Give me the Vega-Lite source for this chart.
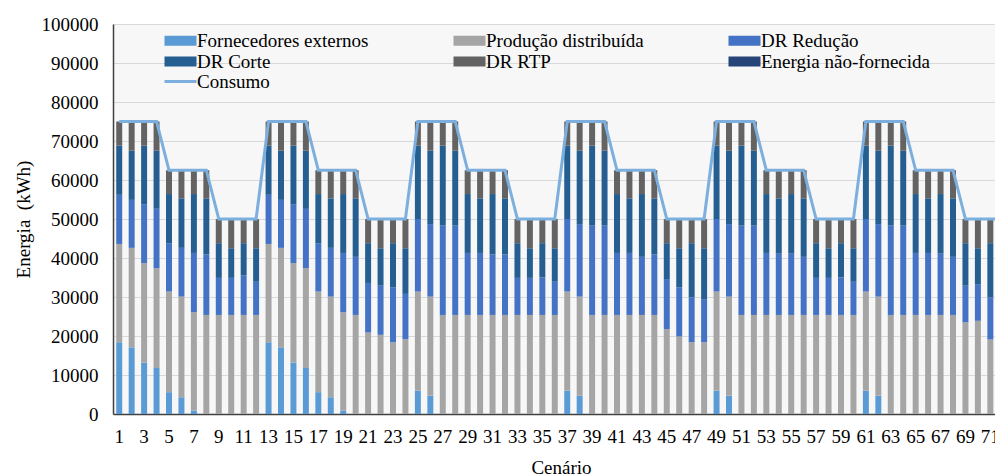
{
  "$schema": "https://vega.github.io/schema/vega-lite/v6.json",
  "width": 896,
  "height": 390,
  "padding": {"left": 14, "top": 15, "right": 0, "bottom": 0},
  "background": "white",
  "config": {
    "font": "Liberation Serif",
    "view": {"fill": "#f7f7f7", "stroke": null},
    "axis": {
      "labelFont": "Liberation Serif",
      "titleFont": "Liberation Serif",
      "labelFontSize": 19,
      "titleFontSize": 19,
      "labelColor": "#000000",
      "titleColor": "#000000",
      "titleFontWeight": "normal",
      "ticks": false,
      "tickSize": 0,
      "labelOverlap": false,
      "domainColor": "#404040",
      "domainWidth": 1.5
    },
    "legend": {"labelFont": "Liberation Serif", "labelFontSize": 19, "labelColor": "#000000", "labelLimit": 400}
  },
  "data": {
    "values": [
      {"c":1,"Fornecedores externos":18400,"Produção distribuída":25200,"DR Redução":12600,"DR Corte":12600,"DR RTP":6200,"Consumo":75000},
      {"c":2,"Fornecedores externos":17100,"Produção distribuída":25500,"DR Redução":12300,"DR Corte":12600,"DR RTP":7500,"Consumo":75000},
      {"c":3,"Fornecedores externos":13200,"Produção distribuída":25500,"DR Redução":15100,"DR Corte":15000,"DR RTP":6200,"Consumo":75000},
      {"c":4,"Fornecedores externos":11800,"Produção distribuída":25600,"DR Redução":15200,"DR Corte":14900,"DR RTP":7500,"Consumo":75000},
      {"c":5,"Fornecedores externos":5600,"Produção distribuída":25800,"DR Redução":12400,"DR Corte":12600,"DR RTP":6100,"Consumo":62500},
      {"c":6,"Fornecedores externos":4300,"Produção distribuída":25800,"DR Redução":12500,"DR Corte":12700,"DR RTP":7200,"Consumo":62500},
      {"c":7,"Fornecedores externos":900,"Produção distribuída":25200,"DR Redução":15200,"DR Corte":15100,"DR RTP":6100,"Consumo":62500},
      {"c":8,"Fornecedores externos":0,"Produção distribuída":25400,"DR Redução":15500,"DR Corte":14400,"DR RTP":7200,"Consumo":62500},
      {"c":9,"Fornecedores externos":0,"Produção distribuída":25400,"DR Redução":9500,"DR Corte":8900,"DR RTP":6200,"Consumo":50000},
      {"c":10,"Fornecedores externos":0,"Produção distribuída":25400,"DR Redução":9500,"DR Corte":7600,"DR RTP":7500,"Consumo":50000},
      {"c":11,"Fornecedores externos":0,"Produção distribuída":25400,"DR Redução":10100,"DR Corte":8300,"DR RTP":6200,"Consumo":50000},
      {"c":12,"Fornecedores externos":0,"Produção distribuída":25400,"DR Redução":8500,"DR Corte":8600,"DR RTP":7500,"Consumo":50000},
      {"c":13,"Fornecedores externos":18400,"Produção distribuída":25200,"DR Redução":12600,"DR Corte":12600,"DR RTP":6200,"Consumo":75000},
      {"c":14,"Fornecedores externos":17100,"Produção distribuída":25500,"DR Redução":12300,"DR Corte":12600,"DR RTP":7500,"Consumo":75000},
      {"c":15,"Fornecedores externos":13200,"Produção distribuída":25500,"DR Redução":15100,"DR Corte":15000,"DR RTP":6200,"Consumo":75000},
      {"c":16,"Fornecedores externos":11800,"Produção distribuída":25600,"DR Redução":15200,"DR Corte":14900,"DR RTP":7500,"Consumo":75000},
      {"c":17,"Fornecedores externos":5600,"Produção distribuída":25800,"DR Redução":12400,"DR Corte":12600,"DR RTP":6100,"Consumo":62500},
      {"c":18,"Fornecedores externos":4300,"Produção distribuída":25800,"DR Redução":12500,"DR Corte":12700,"DR RTP":7200,"Consumo":62500},
      {"c":19,"Fornecedores externos":900,"Produção distribuída":25200,"DR Redução":15200,"DR Corte":15100,"DR RTP":6100,"Consumo":62500},
      {"c":20,"Fornecedores externos":0,"Produção distribuída":25400,"DR Redução":14900,"DR Corte":15000,"DR RTP":7200,"Consumo":62500},
      {"c":21,"Fornecedores externos":0,"Produção distribuída":20900,"DR Redução":12700,"DR Corte":10200,"DR RTP":6200,"Consumo":50000},
      {"c":22,"Fornecedores externos":0,"Produção distribuída":20300,"DR Redução":12600,"DR Corte":9600,"DR RTP":7500,"Consumo":50000},
      {"c":23,"Fornecedores externos":0,"Produção distribuída":18400,"DR Redução":14100,"DR Corte":11300,"DR RTP":6200,"Consumo":50000},
      {"c":24,"Fornecedores externos":0,"Produção distribuída":19200,"DR Redução":11600,"DR Corte":11700,"DR RTP":7500,"Consumo":50000},
      {"c":25,"Fornecedores externos":6000,"Produção distribuída":25400,"DR Redução":18600,"DR Corte":18800,"DR RTP":6200,"Consumo":75000},
      {"c":26,"Fornecedores externos":4700,"Produção distribuída":25400,"DR Redução":18600,"DR Corte":18800,"DR RTP":7500,"Consumo":75000},
      {"c":27,"Fornecedores externos":0,"Produção distribuída":25400,"DR Redução":22900,"DR Corte":20500,"DR RTP":6200,"Consumo":75000},
      {"c":28,"Fornecedores externos":0,"Produção distribuída":25400,"DR Redução":22900,"DR Corte":19200,"DR RTP":7500,"Consumo":75000},
      {"c":29,"Fornecedores externos":0,"Produção distribuída":25400,"DR Redução":15900,"DR Corte":15100,"DR RTP":6100,"Consumo":62500},
      {"c":30,"Fornecedores externos":0,"Produção distribuída":25400,"DR Redução":15900,"DR Corte":14000,"DR RTP":7200,"Consumo":62500},
      {"c":31,"Fornecedores externos":0,"Produção distribuída":25400,"DR Redução":15500,"DR Corte":15500,"DR RTP":6100,"Consumo":62500},
      {"c":32,"Fornecedores externos":0,"Produção distribuída":25400,"DR Redução":15500,"DR Corte":14400,"DR RTP":7200,"Consumo":62500},
      {"c":33,"Fornecedores externos":0,"Produção distribuída":25400,"DR Redução":9500,"DR Corte":8900,"DR RTP":6200,"Consumo":50000},
      {"c":34,"Fornecedores externos":0,"Produção distribuída":25400,"DR Redução":9500,"DR Corte":7600,"DR RTP":7500,"Consumo":50000},
      {"c":35,"Fornecedores externos":0,"Produção distribuída":25400,"DR Redução":9600,"DR Corte":8800,"DR RTP":6200,"Consumo":50000},
      {"c":36,"Fornecedores externos":0,"Produção distribuída":25400,"DR Redução":8500,"DR Corte":8600,"DR RTP":7500,"Consumo":50000},
      {"c":37,"Fornecedores externos":6000,"Produção distribuída":25400,"DR Redução":18600,"DR Corte":18800,"DR RTP":6200,"Consumo":75000},
      {"c":38,"Fornecedores externos":4700,"Produção distribuída":25400,"DR Redução":18600,"DR Corte":18800,"DR RTP":7500,"Consumo":75000},
      {"c":39,"Fornecedores externos":0,"Produção distribuída":25400,"DR Redução":22900,"DR Corte":20500,"DR RTP":6200,"Consumo":75000},
      {"c":40,"Fornecedores externos":0,"Produção distribuída":25400,"DR Redução":22900,"DR Corte":19200,"DR RTP":7500,"Consumo":75000},
      {"c":41,"Fornecedores externos":0,"Produção distribuída":25400,"DR Redução":15900,"DR Corte":15100,"DR RTP":6100,"Consumo":62500},
      {"c":42,"Fornecedores externos":0,"Produção distribuída":25400,"DR Redução":15900,"DR Corte":14000,"DR RTP":7200,"Consumo":62500},
      {"c":43,"Fornecedores externos":0,"Produção distribuída":25400,"DR Redução":14900,"DR Corte":16100,"DR RTP":6100,"Consumo":62500},
      {"c":44,"Fornecedores externos":0,"Produção distribuída":25400,"DR Redução":15500,"DR Corte":14400,"DR RTP":7200,"Consumo":62500},
      {"c":45,"Fornecedores externos":0,"Produção distribuída":21800,"DR Redução":12800,"DR Corte":9200,"DR RTP":6200,"Consumo":50000},
      {"c":46,"Fornecedores externos":0,"Produção distribuída":19900,"DR Redução":12600,"DR Corte":10000,"DR RTP":7500,"Consumo":50000},
      {"c":47,"Fornecedores externos":0,"Produção distribuída":18400,"DR Redução":11500,"DR Corte":13900,"DR RTP":6200,"Consumo":50000},
      {"c":48,"Fornecedores externos":0,"Produção distribuída":18400,"DR Redução":10900,"DR Corte":13200,"DR RTP":7500,"Consumo":50000},
      {"c":49,"Fornecedores externos":6000,"Produção distribuída":25400,"DR Redução":18600,"DR Corte":18800,"DR RTP":6200,"Consumo":75000},
      {"c":50,"Fornecedores externos":4700,"Produção distribuída":25400,"DR Redução":18600,"DR Corte":18800,"DR RTP":7500,"Consumo":75000},
      {"c":51,"Fornecedores externos":0,"Produção distribuída":25400,"DR Redução":22900,"DR Corte":20500,"DR RTP":6200,"Consumo":75000},
      {"c":52,"Fornecedores externos":0,"Produção distribuída":25400,"DR Redução":22900,"DR Corte":19200,"DR RTP":7500,"Consumo":75000},
      {"c":53,"Fornecedores externos":0,"Produção distribuída":25400,"DR Redução":15900,"DR Corte":15100,"DR RTP":6100,"Consumo":62500},
      {"c":54,"Fornecedores externos":0,"Produção distribuída":25400,"DR Redução":15700,"DR Corte":14200,"DR RTP":7200,"Consumo":62500},
      {"c":55,"Fornecedores externos":0,"Produção distribuída":25400,"DR Redução":15700,"DR Corte":15300,"DR RTP":6100,"Consumo":62500},
      {"c":56,"Fornecedores externos":0,"Produção distribuída":25400,"DR Redução":14900,"DR Corte":15000,"DR RTP":7200,"Consumo":62500},
      {"c":57,"Fornecedores externos":0,"Produção distribuída":25400,"DR Redução":9500,"DR Corte":8900,"DR RTP":6200,"Consumo":50000},
      {"c":58,"Fornecedores externos":0,"Produção distribuída":25400,"DR Redução":9500,"DR Corte":7600,"DR RTP":7500,"Consumo":50000},
      {"c":59,"Fornecedores externos":0,"Produção distribuída":25400,"DR Redução":9600,"DR Corte":8800,"DR RTP":6200,"Consumo":50000},
      {"c":60,"Fornecedores externos":0,"Produção distribuída":25400,"DR Redução":8500,"DR Corte":8600,"DR RTP":7500,"Consumo":50000},
      {"c":61,"Fornecedores externos":6000,"Produção distribuída":25400,"DR Redução":18600,"DR Corte":18800,"DR RTP":6200,"Consumo":75000},
      {"c":62,"Fornecedores externos":4700,"Produção distribuída":25400,"DR Redução":18600,"DR Corte":18800,"DR RTP":7500,"Consumo":75000},
      {"c":63,"Fornecedores externos":0,"Produção distribuída":25400,"DR Redução":22900,"DR Corte":20500,"DR RTP":6200,"Consumo":75000},
      {"c":64,"Fornecedores externos":0,"Produção distribuída":25400,"DR Redução":22900,"DR Corte":19200,"DR RTP":7500,"Consumo":75000},
      {"c":65,"Fornecedores externos":0,"Produção distribuída":25400,"DR Redução":15900,"DR Corte":15100,"DR RTP":6100,"Consumo":62500},
      {"c":66,"Fornecedores externos":0,"Produção distribuída":25400,"DR Redução":15900,"DR Corte":14000,"DR RTP":7200,"Consumo":62500},
      {"c":67,"Fornecedores externos":0,"Produção distribuída":25400,"DR Redução":15700,"DR Corte":15300,"DR RTP":6100,"Consumo":62500},
      {"c":68,"Fornecedores externos":0,"Produção distribuída":25400,"DR Redução":14900,"DR Corte":15000,"DR RTP":7200,"Consumo":62500},
      {"c":69,"Fornecedores externos":0,"Produção distribuída":23500,"DR Redução":9400,"DR Corte":10900,"DR RTP":6200,"Consumo":50000},
      {"c":70,"Fornecedores externos":0,"Produção distribuída":23900,"DR Redução":9400,"DR Corte":9200,"DR RTP":7500,"Consumo":50000},
      {"c":71,"Fornecedores externos":0,"Produção distribuída":19100,"DR Redução":10800,"DR Corte":13900,"DR RTP":6200,"Consumo":50000},
      {"c":72,"Fornecedores externos":0,"Produção distribuída":19100,"DR Redução":10200,"DR Corte":13200,"DR RTP":7500,"Consumo":50000}
    ]
  },
  "layer": [
    {
      "transform": [
        {"fold": ["Fornecedores externos", "Produção distribuída", "DR Redução", "DR Corte", "DR RTP"], "as": ["serie", "kwh"]},
        {
          "lookup": "serie",
          "from": {
            "data": {"values": [
              {"serie": "Fornecedores externos", "ordem": 1},
              {"serie": "Produção distribuída", "ordem": 2},
              {"serie": "DR Redução", "ordem": 3},
              {"serie": "DR Corte", "ordem": 4},
              {"serie": "DR RTP", "ordem": 5},
              {"serie": "Energia não-fornecida", "ordem": 6}
            ]},
            "key": "serie",
            "fields": ["ordem"]
          }
        }
      ],
      "mark": {"type": "bar"},
      "encoding": {
        "x": {
          "field": "c",
          "type": "ordinal",
          "scale": {"paddingInner": 0.52, "paddingOuter": 0.26},
          "axis": {
            "title": "Cenário",
            "values": [1,3,5,7,9,11,13,15,17,19,21,23,25,27,29,31,33,35,37,39,41,43,45,47,49,51,53,55,57,59,61,63,65,67,69,71],
            "labelAngle": 0,
            "labelPadding": 13,
            "titlePadding": 12,
            "labelOverlap": false,
            "grid": false
          }
        },
        "y": {
          "field": "kwh",
          "type": "quantitative",
          "stack": "zero",
          "scale": {"domain": [0, 100000], "nice": false},
          "axis": {
            "title": "Energia\u00a0\u00a0(kWh)",
            "values": [0,10000,20000,30000,40000,50000,60000,70000,80000,90000,100000],
            "format": "d",
            "labelPadding": 15,
            "titlePadding": 8,
            "labelOverlap": false,
            "grid": true,
            "gridColor": "#d9d9d9",
            "gridWidth": 1
          }
        },
        "order": {"field": "ordem", "type": "quantitative", "sort": "ascending"},
        "color": {
          "field": "serie",
          "type": "nominal",
          "sort": ["Fornecedores externos", "Produção distribuída", "DR Redução", "DR Corte", "DR RTP", "Energia não-fornecida"],
          "scale": {
            "domain": ["Fornecedores externos", "Produção distribuída", "DR Redução", "DR Corte", "DR RTP", "Energia não-fornecida"],
            "range": ["#5b9bd5", "#a5a5a5", "#4472c4", "#255e91", "#636363", "#264478"]
          },
          "legend": {
            "title": null,
            "orient": "none",
            "direction": "horizontal",
            "legendX": 58,
            "legendY": 7,
            "columns": 3,
            "columnPadding": 84,
            "rowPadding": 1,
            "symbolType": "M-3.2,-1H3.2V1H-3.2Z",
            "symbolSize": 100,
            "symbolStrokeWidth": 0,
            "labelOffset": 7,
            "labelFontSize": 19
          }
        }
      }
    },
    {
      "mark": {"type": "line", "strokeWidth": 3},
      "encoding": {
        "x": {
          "field": "c",
          "type": "ordinal",
          "axis": {
            "title": "Cenário",
            "values": [1,3,5,7,9,11,13,15,17,19,21,23,25,27,29,31,33,35,37,39,41,43,45,47,49,51,53,55,57,59,61,63,65,67,69,71],
            "labelAngle": 0,
            "labelPadding": 13,
            "titlePadding": 12,
            "labelOverlap": false,
            "grid": false
          }
        },
        "y": {
          "field": "Consumo",
          "type": "quantitative",
          "scale": {"domain": [0, 100000], "nice": false},
          "axis": {
            "title": "Energia\u00a0\u00a0(kWh)",
            "values": [0,10000,20000,30000,40000,50000,60000,70000,80000,90000,100000],
            "format": "d",
            "labelPadding": 15,
            "titlePadding": 8,
            "labelOverlap": false,
            "grid": true,
            "gridColor": "#d9d9d9",
            "gridWidth": 1
          }
        },
        "stroke": {
          "datum": "Consumo",
          "type": "nominal",
          "scale": {"domain": ["Consumo"], "range": ["#7cafdd"]},
          "legend": {
            "title": null,
            "orient": "none",
            "legendX": 58,
            "legendY": 48,
            "symbolType": "M-3.2,0H3.2",
            "symbolSize": 100,
            "symbolStrokeWidth": 3,
            "symbolFillColor": "transparent",
            "labelOffset": 7,
            "labelFontSize": 19
          }
        }
      }
    }
  ]
}
